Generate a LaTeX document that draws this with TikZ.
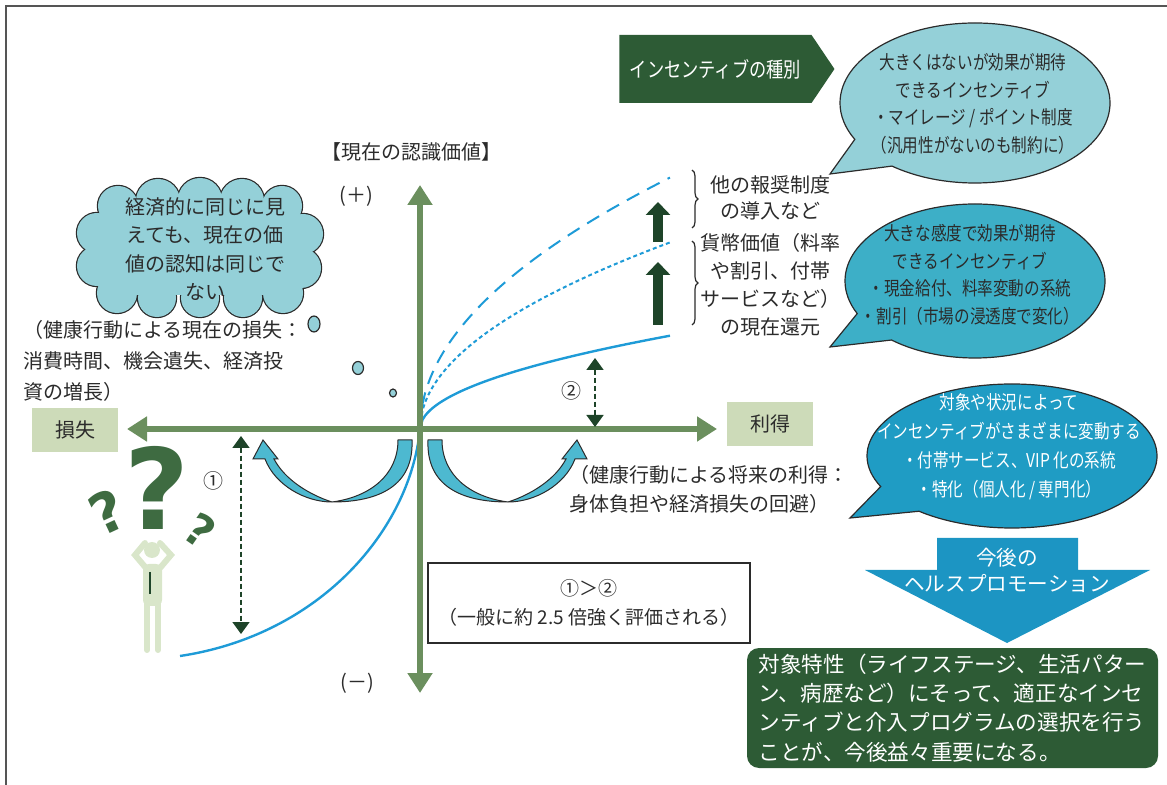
\documentclass[tikz,border=0pt]{standalone}
\usepackage{fontspec}
\setmainfont{Noto Sans CJK JP}
\newfontfamily\narrowjp[FakeStretch=0.82]{Noto Sans CJK JP}
\newfontfamily\qmarkfont{DejaVu Sans}
\usetikzlibrary{arrows.meta,positioning,shapes.symbols,shapes.callouts,decorations.pathreplacing}

\definecolor{axisgreen}{HTML}{6B8F5E}
\definecolor{deepgreen}{HTML}{2D5B35}
\definecolor{arrowgreen}{HTML}{1E4429}
\definecolor{curveblue}{HTML}{1E9BD7}
\definecolor{paleteal}{HTML}{94D0D8}
\definecolor{midteal}{HTML}{3DAFC7}
\definecolor{deepteal}{HTML}{1F9CC4}
\definecolor{ribbonblue}{HTML}{4DB9D0}
\definecolor{promoblue}{HTML}{1C95C3}
\definecolor{sage}{HTML}{CDDBB9}
\definecolor{personfill}{HTML}{D9E6CA}
\definecolor{qgreen}{HTML}{3E6B41}
\definecolor{textgray}{HTML}{2B2B2B}

\tikzset{
  frame/.style={draw=textgray!80, line width=0.8pt},
  axis/.style={draw=axisgreen, line width=3.2pt,
    {Triangle[width=12pt,length=10pt]}-{Triangle[width=12pt,length=10pt]}},
  payoff/.style={draw=curveblue, line width=1.2pt},
  gap/.style={draw=arrowgreen, line width=0.8pt, dash pattern=on 2.5pt off 1.5pt,
    {Triangle[width=8.5pt,length=6pt]}-{Triangle[width=8.5pt,length=6pt]}},
  rise/.style={draw=arrowgreen, line width=5pt, -{Triangle[width=12pt,length=6.5pt]}},
  brace/.style={decorate, decoration={brace, amplitude=3pt}, draw=textgray, line width=0.6pt},
  caption/.style={font=\fontsize{10}{15}\selectfont, text=textgray, inner sep=0pt},
  sidebox/.style={caption, fill=sage, minimum width=43pt, minimum height=22pt},
  ribbon/.style={fill=ribbonblue, draw=textgray, line width=0.5pt},
  bubble/.style={ellipse callout, draw=textgray, line width=0.6pt, callout pointer arc=25},
  bubbletext/.style={font=\narrowjp\fontsize{9.5}{13.8}\selectfont, align=center, inner sep=0pt},
  blob/.style={fill=paleteal, draw=textgray, line width=0.6pt},
  personlimb/.style={draw=personfill, line width=3pt, line cap=round},
  qmark/.style={text=qgreen, inner sep=0pt},
}

\begin{document}
\begin{tikzpicture}[x=0.5pt, y=-0.5pt]
\useasboundingbox (0,0) rectangle (1167,785);

% page frame
\draw[frame] (6,785) -- (6,6) -- (1167,6);

% axes
\coordinate (origin) at (420,429);
\coordinate (west) at (127,429);
\coordinate (east) at (717,429);
\coordinate (north) at (420,185);
\coordinate (south) at (420,693);

\node[caption] (valuetitle) at (411,152) {【現在の認識価値】};
\node[caption] (plus) at (356,196) {(＋)};
\node[caption] (minus) at (357,683) {(－)};
\node[sidebox] (loss) at (75,430) {損失};
\node[sidebox] (gain) at (770,424) {利得};

% value curves
\coordinate (lossend) at (180,656);
\draw[payoff] (origin) .. controls (410,530) and (320,635) .. (lossend);
\draw[payoff] plot[domain=0:250, samples=100] ({420+\x},{429-5.9*sqrt(\x)});
\draw[payoff, line width=1pt, dash pattern=on 2pt off 1.5pt]
  plot[domain=0:250, samples=100] ({420+\x},{429-11.8*sqrt(\x)});
\draw[payoff, line width=1pt, dash pattern=on 7pt off 4.5pt]
  plot[domain=0:250, samples=100] ({420+\x},{429-15.9*sqrt(\x)});

% curved arrows below the axis
\foreach \s in {1,-1} {
  \begin{scope}[shift={(420,0)}, xscale=\s]
    \filldraw[ribbon] (-22,440) -- (-8,440)
      .. controls (-6,485) and (-40,502) .. (-88,502)
      .. controls (-115,502) and (-145,485) .. (-155,459)
      -- (-167,459) -- (-157,440) -- (-142,459) -- (-146,459)
      .. controls (-135,480) and (-110,495) .. (-88,502)
      .. controls (-50,497) and (-22,475) .. (-22,440) -- cycle;
  \end{scope}
}

\draw[axis] (west) -- (east);
\draw[axis] (south) -- (north);

% gaps 1 and 2
\coordinate (losstop) at (241,436);
\coordinate (lossbot) at (241,634);
\coordinate (gaintop) at (595,358);
\coordinate (gainbot) at (595,427);
\draw[gap] (losstop) -- (lossbot);
\draw[gap] (gaintop) -- (gainbot);
\node[caption] (one) at (213,481) {①};
\node[caption] (two) at (571,391) {②};

% extra incentives lift the curve
\coordinate (rise1a) at (658,242);
\coordinate (rise1b) at (658,202);
\coordinate (rise2a) at (658,325);
\coordinate (rise2b) at (658,262);
\draw[rise] (rise1a) -- (rise1b);
\draw[rise] (rise2a) -- (rise2b);

\draw[brace] (692,170) -- (692,228);
\draw[brace] (692,241) -- (692,325);
\node[caption, align=center, font=\fontsize{10}{13}\selectfont] (reward) at (770,198)
  {他の報奨制度\\の導入など};
\node[caption, align=center, font=\fontsize{10}{14}\selectfont] (money) at (770,285)
  {貨幣価値（料率\\や割引、付帯\\サービスなど）\\の現在還元};

% notes on loss and gain
\node[caption, align=left, anchor=west, font=\fontsize{10}{15.5}\selectfont] (lossnote) at (23,361)
  {（健康行動による現在の損失：\\消費時間、機会遺失、経済投\\資の増長）};
\node[caption, align=left, anchor=west, font=\fontsize{10}{14.5}\selectfont] (gainnote) at (569,489)
  {（健康行動による将来の利得：\\身体負担や経済損失の回避）};

\node[caption, draw=textgray, line width=0.6pt, fill=white, align=center,
  font=\fontsize{9.5}{14.5}\selectfont, minimum width=161pt, minimum height=40pt]
  (ratio) at (589,603) {①＞②\\（一般に約 2.5 倍強く評価される）};

% thought cloud: outlined puffs, then the inside filled over the inner lines
\def\puffs{118/206/20, 158/201/22, 200/200/22, 242/201/22, 282/206/20, 303/234/20,
  301/268/20, 283/293/20, 243/298/19, 200/298/19, 157/298/19, 117/293/20, 97/266/20, 97/233/20}
\foreach \cx/\cy/\r in \puffs
  \filldraw[blob, line width=1.2pt] (\cx,\cy) circle (\r);
\fill[paleteal] (105,206) rectangle (298,295);
\foreach \cx/\cy/\r in \puffs
  \fill[paleteal] (\cx,\cy) circle (\r);
\node[caption, align=center, font=\fontsize{10}{14.2}\selectfont] (doubttext) at (205,249)
  {経済的に同じに見\\えても、現在の価\\値の認知は同じで\\ない};
\filldraw[blob] (314,324) ellipse (6 and 8);
\filldraw[blob] (358,368) ellipse (5.5 and 6.5);
\filldraw[blob] (393,393) ellipse (3.5 and 4);

% puzzled person
\node[qmark, font=\qmarkfont\bfseries\fontsize{56}{56}\selectfont] (bigq) at (157,488) {?};
\node[qmark, rotate=25, font=\qmarkfont\bfseries\fontsize{28}{28}\selectfont] (leftq) at (107,512) {?};
\node[qmark, rotate=-35, font=\qmarkfont\bfseries\fontsize{22}{22}\selectfont] (rightq) at (200,530) {?};
\fill[personfill] (152,550) circle (8);
\draw[personlimb] (146,568) -- (135,555) -- (145,543);
\draw[personlimb] (160,568) -- (171,555) -- (160,543);
\fill[personfill, rounded corners=3] (143,564) rectangle (162,606);
\draw[personlimb] (147,604) -- (147,650);
\draw[personlimb] (158,604) -- (158,650);
\draw[arrowgreen, line width=1.2pt] (150,572) -- (150,594);

% kinds of incentive
\node[signal, signal to=east, signal pointer angle=112, fill=deepgreen, text=white,
  minimum width=107.5pt, minimum height=34pt,
  font=\narrowjp\fontsize{10.5}{12}\selectfont] (kinds) at (715.5,69) {インセンティブの種別};

\node[bubble, fill=paleteal, minimum width=135pt, minimum height=80pt,
  callout absolute pointer={(830,174)}] (smallinc) at (975,103) {};
\node[bubbletext, text=textgray] (smallinctext) at (973,104)
  {大きくはないが効果が期待\\できるインセンティブ\\・マイレージ / ポイント制度\\（汎用性がないのも制約に）};

\node[bubble, fill=midteal, minimum width=130pt, minimum height=77pt,
  callout absolute pointer={(830,347)}] (biginc) at (975,281) {};
\node[bubbletext, text=textgray] (bigitext) at (970,275)
  {大きな感度で効果が期待\\できるインセンティブ\\・現金給付、料率変動の系統\\・割引（市場の浸透度で変化）};

\node[bubble, fill=deepteal, minimum width=145pt, minimum height=72pt,
  callout absolute pointer={(850,518)}] (varinc) at (1012,456) {};
\node[bubbletext, text=white, font=\narrowjp\fontsize{9.5}{14.5}\selectfont] (varinctext) at (1009,447)
  {対象や状況によって\\インセンティブがさまざまに変動する\\・付帯サービス、VIP 化の系統\\・特化（個人化 / 専門化）};

% future health promotion
\fill[promoblue] (937,538) -- (1078,538) -- (1078,570) -- (1150,570) -- (1007,643)
  -- (865,570) -- (937,570) -- cycle;
\node[caption, text=white, align=center, font=\fontsize{10.3}{13}\selectfont] (promo) at (1007,570)
  {今後の\\ヘルスプロモーション};

\node[caption, text=white, fill=deepgreen, rounded corners=6pt, align=left,
  minimum width=205.5pt, minimum height=60pt, font=\fontsize{10.8}{14.6}\selectfont]
  (summary) at (952.5,708)
  {対象特性（ライフステージ、生活パター\\ン、病歴など）にそって、適正なインセ\\ンティブと介入プログラムの選択を行う\\ことが、今後益々重要になる。};
\end{tikzpicture}
\end{document}
